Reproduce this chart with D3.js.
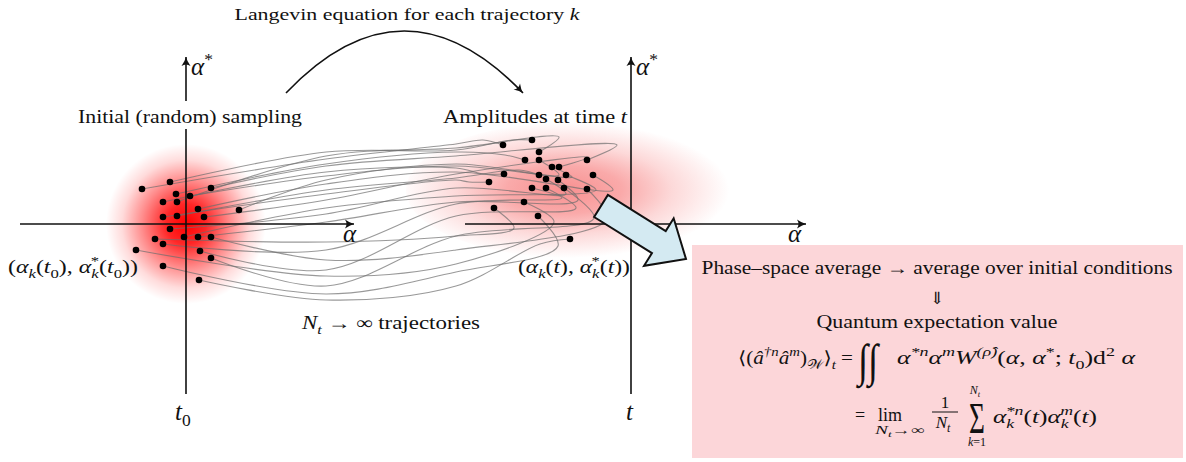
<!DOCTYPE html>
<html><head><meta charset="utf-8">
<script src="https://cdn.jsdelivr.net/npm/d3@7"></script>
<style>
body{margin:0;background:#fff}
svg text{font-family:"Liberation Serif","DejaVu Serif",serif;fill:#111}
</style></head><body>
<svg id="fig" width="1186" height="462"></svg>
<script>
// phase-space samples (alpha, alpha*) in units of the sketch, origin of each frame at 0
const startA = [-4.4,-1.6,2.5,-1.0,0.4,-2.3,-0.9,1.2,5.3,-2.3,-0.9,1.8,-1.6,-3.1,-2.3,-0.2,1.2,2.5,-5.0,1.4,2.5,-2.3,1.3];
const startB = [3.5,4.2,3.6,3.0,2.8,2.2,2.2,1.5,1.4,0.7,0.8,0.7,-0.5,-1.5,-2.0,-1.3,-1.3,-1.3,-2.6,-2.7,-3.4,-4.2,-5.6];
const endA = [-12.8,-9.9,-9.2,-10.6,-9.2,-4.4,-7.9,-7.2,-12.7,-9.2,-6.5,-3.8,-14.2,-8.5,-7.3,-9.9,-8.5,-6.7,-4.4,-13.7,-10.7,-9.3,-6.1];
const endB = [7.9,8.4,7.2,6.4,6.4,6.4,5.7,5.7,5.0,4.9,4.9,4.9,4.2,4.5,4.4,3.6,3.6,3.6,3.5,1.6,2.2,0.8,-1.5];
// which end point each trajectory k reaches
const pairTo = [0,1,5,3,6,8,2,11,4,12,9,7,13,19,15,10,14,18,20,16,17,21,22];
// alpha* of each trajectory on its way (at alpha = 14 and alpha = 27)
const mid1B = [6.5,7.2,5.8,6.0,4.8,5.2,6.8,4.0,4.4,3.0,3.4,2.4,1.0,-1.8,-2.6,1.6,0.2,-3.6,-5.2,-4.6,-6.2,-7.0,-7.6];
const mid2B = [8.0,7.4,6.8,7.2,5.8,5.6,7.6,5.2,6.0,4.4,4.6,5.0,3.6,-1.2,2.0,2.8,2.2,-2.6,-4.0,0.8,-1.2,-4.8,-6.2];
// overshoot before settling on the end point
const loopA = [-2,-2,3,-2,2,-2,2,2,2,-2,-2,3,2,2,3,3,2,2,3,3,3,2,-3];
const loopB = [0.5,0,1.5,0.5,-1,0,1.5,-1.5,-1.5,0,0.5,1,-1.5,-2,-1,-1.5,-2,-3,-2,-2,-3,-3,-0.5];
const frameOrigin = [0, 44.5];
const frameTime = [["t","0"], ["t",""]];

const svg = d3.select("#fig");
const x = d3.scaleLinear().domain([0, 10]).range([186, 286]);
const y = d3.scaleLinear().domain([0, 10]).range([224, 124]);

const defs = svg.append("defs");
defs.append("marker").attr("id","tip").attr("viewBox","-10 -6 12 12")
  .attr("markerWidth",12).attr("markerHeight",12).attr("markerUnits","userSpaceOnUse")
  .attr("orient","auto").attr("refX",0).attr("refY",0)
  .append("path").attr("d","M-9,-4.5 Q-4,-1 0,0 Q-4,1 -9,4.5 Q-6,0 -9,-4.5Z").attr("fill","#111");

const g1 = defs.append("radialGradient").attr("id","blob0");
[[0,1],[0.25,0.85],[0.55,0.45],[0.8,0.14],[1,0]].forEach(s =>
  g1.append("stop").attr("offset",s[0]).attr("stop-color","#ff0000").attr("stop-opacity",s[1]));
const g2 = defs.append("radialGradient").attr("id","blob1").attr("cx",0.48);
[[0,0.52],[0.35,0.4],[0.65,0.18],[1,0]].forEach(s =>
  g2.append("stop").attr("offset",s[0]).attr("stop-color","#f22a2a").attr("stop-opacity",s[1]));

// Wigner distribution blobs
svg.append("circle").attr("cx",x(0)).attr("cy",y(0)).attr("r",80).attr("fill","url(#blob0)");
svg.append("ellipse").attr("cx",x(frameOrigin[1]-6)).attr("cy",y(3.4)).attr("rx",165).attr("ry",68).attr("fill","url(#blob1)");

// trajectories
const line = d3.line().x(d => x(d[0])).y(d => y(d[1])).curve(d3.curveCatmullRom.alpha(0.5));
startA.forEach((a, k) => {
  const e = pairTo[k];
  const ea = frameOrigin[1] + endA[e], eb = endB[e];
  const pts = [[a, startB[k]], [14, mid1B[k]], [27, mid2B[k]],
               [ea + loopA[k], eb + loopB[k]], [ea, eb]];
  svg.append("path").attr("d", line(pts)).attr("fill","none")
     .attr("stroke","#6e6e6e").attr("stroke-opacity",0.7).attr("stroke-width",1.1);
});

// axes
frameOrigin.forEach((o, i) => {
  const ox = x(o), oy = y(0);
  svg.append("line").attr("x1",ox).attr("y1",oy+170).attr("x2",ox).attr("y2",oy-167)
     .attr("stroke","#111").attr("stroke-width",1.6).attr("marker-end","url(#tip)");
  svg.append("line").attr("x1",ox-166).attr("y1",oy).attr("x2",ox+(i ? 175 : 168)).attr("y2",oy)
     .attr("stroke","#111").attr("stroke-width",1.6).attr("marker-end","url(#tip)");
});

// math text helper: segments [text, mode, dx]
function math(x0, y0, segs, size, anchor, len) {
  const t = svg.append("text").attr("x",x0).attr("y",y0).attr("font-size",size)
     .attr("text-anchor",anchor || "start");
  if (len) t.attr("textLength",len).attr("lengthAdjust","spacingAndGlyphs");
  let cur = 0;
  segs.forEach(([s, m, dx]) => {
    const sup = m[0] === "^", sub = m[0] === "_";
    const off = sup ? -0.42*size : sub ? 0.25*size : 0;
    const ts = t.append("tspan").text(s).attr("dy", off - cur);
    if (dx) ts.attr("dx", dx);
    cur = off;
    if (sup || sub) ts.attr("font-size", size*0.7);
    if (m.includes("i")) ts.attr("font-style","italic");
  });
  return t;
}

// dots
startA.forEach((a, k) => svg.append("circle").attr("cx",x(a)).attr("cy",y(startB[k])).attr("r",3.3).attr("fill","#000"));
endA.forEach((a, k) => svg.append("circle").attr("cx",x(frameOrigin[1]+a)).attr("cy",y(endB[k])).attr("r",3.3).attr("fill","#000"));

// axis labels
frameOrigin.forEach((o, i) => {
  const ox = x(o);
  math(ox+5, 75, [["α","i"],["*","^r"]], 25);
  math(ox+157, 242, [["α","i"]], 25);
  const tl = frameTime[i];
  math(ox - (tl[1] ? 11 : 5), 420, [[tl[0],"i"]].concat(tl[1] ? [[tl[1],"_r"]] : []), 25);
});

// text labels
svg.append("rect").attr("x",76).attr("y",101).attr("width",230).attr("height",28).attr("fill","#fff");
math(190, 123, [["Initial (random) sampling","r"]], 18, "middle", 224);
math(535, 123, [["Amplitudes at time ","r"],["t","i"]], 18, "middle", 184);
math(407, 20, [["Langevin equation for each trajectory ","r"],["k","i"]], 17, "middle", 345);
math(8, 273, [["(","r"],["α","i"],["k","_i"],["(","r"],["t","i"],["0","_r"],["), ","r"],["α","i"],["k","_i"],["*","^r",-6],["(","r"],["t","i"],["0","_r"],["))","r"]], 18, "start", 130);
math(518, 273, [["(","r"],["α","i"],["k","_i"],["(","r"],["t","i"],["), ","r"],["α","i"],["k","_i"],["*","^r",-6],["(","r"],["t","i"],["))","r"]], 18, "start", 112);
math(302, 329, [["N","i"],["t","_i"],[" → ∞ trajectories","r"]], 18, "start", 178);

// Langevin arc
const arc = d3.path();
arc.moveTo(286, 93);
arc.quadraticCurveTo(404, -31, 523, 93);
svg.append("path").attr("d", arc.toString())
  .attr("fill","none").attr("stroke","#111").attr("stroke-width",1.6).attr("marker-end","url(#tip)");

// blue arrow
(() => {
  const B = [601,206], T = [686,259];
  const L = Math.hypot(T[0]-B[0], T[1]-B[1]);
  const d = [(T[0]-B[0])/L, (T[1]-B[1])/L], n = [-d[1], d[0]];
  const hl = 32, hw = 28, sw = 13;
  const H = [T[0]-d[0]*hl, T[1]-d[1]*hl];
  const P = (p, s) => [p[0]+n[0]*s, p[1]+n[1]*s];
  const pts = [P(B,-sw), P(H,-sw), P(H,-hw), T, P(H,hw), P(H,sw), P(B,sw)];
  svg.append("path").attr("d","M"+pts.join("L")+"Z").attr("fill","#d4eaf2")
     .attr("stroke","#111").attr("stroke-width",2).attr("stroke-linejoin","miter");
})();

// result box
svg.append("rect").attr("x",692).attr("y",245).attr("width",491).attr("height",213).attr("fill","#fcd6d9");
math(937, 274, [["Phase–space average → average over initial conditions","r"]], 18, "middle", 471);
math(937, 304, [["⇓","r"]], 17, "middle");
math(937, 328, [["Quantum expectation value","r"]], 18, "middle", 241);
math(853, 364, [["⟨(","r"],["â","i"],["†n","^i"],["â","i"],["m","^i"],[")","r"],["𝒲","_r"],["⟩","r"],["t","_i"],[" =","r"]], 18, "end", 115);
svg.append("text").attr("transform","translate(858,376) scale(0.8,1)").attr("font-size",46).attr("font-style","italic").text("∫∫");
math(897, 364, [["α","i"],["*n","^i"],["α","i"],["m","^i"],["W","i"],["(ρ̂)","^i"],["(","r"],["α","i"],[", ","r"],["α","i"],["*","^r"],["; ","r"],["t","i"],["0","_r"],[")d","r"],["2","^r"],[" α","i"]], 18, "start", 238);
math(855, 421, [["=","r"]], 18);
math(890, 421, [["lim","r"]], 18, "middle");
math(900, 434, [["N","i"],["t","_i"],["→∞","r"]], 12, "middle", 50);
math(945, 408, [["1","r"]], 17, "middle");
svg.append("line").attr("x1",932).attr("x2",958).attr("y1",412).attr("y2",412).attr("stroke","#111").attr("stroke-width",1);
math(943, 428, [["N","i"],["t","_i"]], 17, "middle");
svg.append("text").attr("transform","translate(977,433) scale(0.62,1)").attr("font-size",44).attr("text-anchor","middle").text("Σ");
math(975, 394, [["N","i"],["t","_i"]], 12, "middle");
math(977, 446, [["k","i"],["=1","r"]], 12, "middle");
math(993, 423, [["α","i"],["k","_i"],["*n","^i",-6],["(","r"],["t","i"],[")","r"],["α","i"],["k","_i"],["m","^i",-6],["(","r"],["t","i"],[")","r"]], 18, "start", 104);
</script>
</body></html>
